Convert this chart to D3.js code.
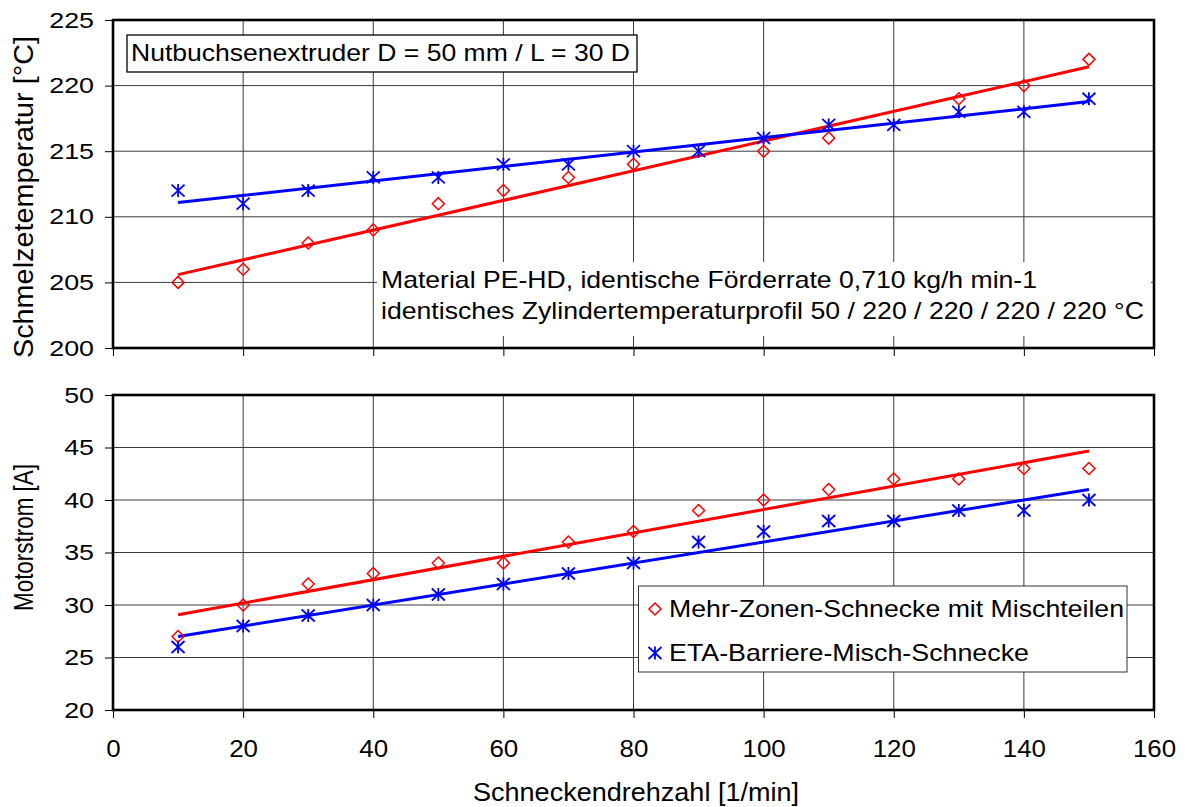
<!DOCTYPE html>
<html>
<head>
<meta charset="utf-8">
<script src="https://cdn.jsdelivr.net/npm/d3@7"></script>
<style>
  html, body { margin: 0; padding: 0; background: #fff; }
  svg { display: block; font-family: "Liberation Sans", Arial, sans-serif; }
</style>
</head>
<body>
<svg id="chart" width="1189" height="807"></svg>
<script>
// ---------------- data ----------------
const speed = [10, 20, 30, 40, 50, 60, 70, 80, 90, 100, 110, 120, 130, 140, 150];
const tempMehrZonen = [205, 206, 208, 209, 211, 212, 213, 214, null, 215, 216, null, 219, 220, 222];
const tempEta       = [212, 211, 212, 213, 213, 214, 214, 215, 215, 216, 217, 217, 218, 218, 219];
const currMehrZonen = [27, 30, 32, 33, 34, 34, 36, 37, 39, 40, 41, 42, 42, 43, 43];
const currEta       = [26, 28, 29, 30, 31, 32, 33, 34, 36, 37, 38, 38, 39, 39, 40];

const xTicks = [0, 20, 40, 60, 80, 100, 120, 140, 160];
const tempTicks = [200, 205, 210, 215, 220, 225];
const currTicks = [20, 25, 30, 35, 40, 45, 50];

const seriesNames = ["Mehr-Zonen-Schnecke mit Mischteilen", "ETA-Barriere-Misch-Schnecke"];
const xTitle = "Schneckendrehzahl [1/min]";
const tempTitle = "Schmelzetemperatur [°C]";
const currTitle = "Motorstrom [A]";
const boxText = "Nutbuchsenextruder D = 50 mm / L = 30 D";
const noteLines = ["Material PE-HD, identische Förderrate 0,710 kg/h min-1",
                   "identisches Zylindertemperaturprofil 50 / 220 / 220 / 220 / 220 °C"];

// ---------------- setup ----------------
const svg = d3.select("#chart");
const RED = "#ff0000", BLUE = "#0000ff";

const x = d3.scaleLinear().domain([0, 160]).range([113, 1154]);
const yT = d3.scaleLinear().domain([200, 225]).range([348, 20]);
const yC = d3.scaleLinear().domain([20, 50]).range([710, 395]);

function fit(xs, ys) {
  const pts = xs.map((v, i) => [v, ys[i]]).filter(p => p[1] != null);
  const mx = d3.mean(pts, p => p[0]), my = d3.mean(pts, p => p[1]);
  const sxy = d3.sum(pts, p => (p[0] - mx) * (p[1] - my));
  const sxx = d3.sum(pts, p => (p[0] - mx) * (p[0] - mx));
  const b = sxy / sxx, a = my - b * mx;
  const x0 = d3.min(xs), x1 = d3.max(xs);
  return [[x0, a + b * x0], [x1, a + b * x1]];
}

const diamondPath = "M0,-6L6,0L0,6L-6,0Z";
const starPath = "M0,-6.5V6.5M-6.5,-6L6.5,6M-6.5,6L6.5,-6";

function textL(g, str, xx, yy, size, len) {
  return g.append("text").attr("x", xx).attr("y", yy)
    .attr("font-size", size).attr("fill", "#000")
    .attr("textLength", len).attr("lengthAdjust", "spacingAndGlyphs")
    .text(str);
}

function drawPanel(y, yTicks, s1, s2, showXLabels) {
  const g = svg.append("g");
  const [bot, top] = y.range();
  const [left, right] = x.range();

  // gridlines
  g.append("g").selectAll("line").data(xTicks.slice(1, -1)).join("line")
    .attr("x1", d => x(d)).attr("x2", d => x(d)).attr("y1", top).attr("y2", bot)
    .attr("stroke", "#3a3a3a").attr("stroke-width", 1);
  g.append("g").selectAll("line").data(yTicks.slice(1, -1)).join("line")
    .attr("x1", left).attr("x2", right).attr("y1", d => y(d)).attr("y2", d => y(d))
    .attr("stroke", "#3a3a3a").attr("stroke-width", 1);

  const overlay = svg.append("g");

  // trend lines
  const line = d3.line().x(d => x(d[0])).y(d => y(d[1]));
  const data = svg.append("g");
  data.append("path").attr("d", line(fit(speed, s1))).attr("stroke", RED)
    .attr("stroke-width", 3).attr("fill", "none");
  data.append("path").attr("d", line(fit(speed, s2))).attr("stroke", BLUE)
    .attr("stroke-width", 3).attr("fill", "none");

  // markers
  data.append("g").selectAll("path")
    .data(speed.map((v, i) => [v, s1[i]]).filter(d => d[1] != null)).join("path")
    .attr("d", diamondPath).attr("transform", d => `translate(${x(d[0])},${y(d[1])})`)
    .attr("fill", "none").attr("stroke", RED).attr("stroke-width", 1.5);
  data.append("g").selectAll("path")
    .data(speed.map((v, i) => [v, s2[i]]).filter(d => d[1] != null)).join("path")
    .attr("d", starPath).attr("transform", d => `translate(${x(d[0])},${y(d[1])})`)
    .attr("fill", "none").attr("stroke", BLUE).attr("stroke-width", 1.8);

  // frame
  svg.append("rect").attr("x", left).attr("y", top).attr("width", right - left).attr("height", bot - top)
    .attr("fill", "none").attr("stroke", "#000").attr("stroke-width", 2.6);

  // axes
  const sy = 1.22;
  const ay = svg.append("g").attr("transform", `translate(${left},0)`)
    .call(d3.axisLeft(y).tickValues(yTicks).tickSize(8).tickSizeOuter(0));
  ay.select(".domain").remove();
  ay.selectAll(".tick line").attr("stroke", "#000");
  ay.selectAll(".tick text").attr("font-size", 22).attr("font-family", null).attr("fill", "#000")
    .attr("x", -19 / sy).attr("transform", `scale(${sy},1)`);

  const sx = 1.08;
  const ax = svg.append("g").attr("transform", `translate(0,${bot})`)
    .call(d3.axisBottom(x).tickValues(xTicks).tickSize(8).tickSizeOuter(0)
      .tickFormat(showXLabels ? d3.format("d") : () => ""));
  ax.select(".domain").remove();
  ax.selectAll(".tick line").attr("stroke", "#000");
  ax.selectAll(".tick text").attr("font-size", 24).attr("font-family", null).attr("fill", "#000")
    .attr("y", 47).attr("dy", 0).attr("transform", `scale(${sx},1)`);

  return overlay;
}

// ---------------- top panel ----------------
const ovT = drawPanel(yT, tempTicks, tempMehrZonen, tempEta, false);
ovT.append("rect").attr("x", 127).attr("y", 35).attr("width", 510).attr("height", 37)
  .attr("fill", "#fff").attr("stroke", "#000").attr("stroke-width", 1.3);
textL(ovT, boxText, 131, 61, 24, 499);
ovT.append("rect").attr("x", 377).attr("y", 262).attr("width", 774).attr("height", 74).attr("fill", "#fff");
textL(ovT, noteLines[0], 381, 288, 24, 656);
textL(ovT, noteLines[1], 381, 319, 24, 763);

// ---------------- bottom panel ----------------
drawPanel(yC, currTicks, currMehrZonen, currEta, true);

// legend
const lg = svg.append("g");
lg.append("rect").attr("x", 638.5).attr("y", 586).attr("width", 488.5).attr("height", 86)
  .attr("fill", "#fff").attr("stroke", "#333").attr("stroke-width", 1);
lg.append("path").attr("d", diamondPath).attr("transform", "translate(655,609)")
  .attr("fill", "none").attr("stroke", RED).attr("stroke-width", 1.5);
lg.append("path").attr("d", starPath).attr("transform", "translate(655,653)")
  .attr("fill", "none").attr("stroke", BLUE).attr("stroke-width", 1.8);
textL(lg, seriesNames[0], 669, 617, 24, 455);
textL(lg, seriesNames[1], 669, 661, 24, 360);

// titles
textL(svg, xTitle, 473, 801, 26, 326);
svg.append("g").attr("transform", "translate(33,197) rotate(-90)")
  .call(g => textL(g, tempTitle, -161, 0, 27, 322));
svg.append("g").attr("transform", "translate(33,537.5) rotate(-90)")
  .call(g => textL(g, currTitle, -73.5, 0, 27, 147));
</script>
</body>
</html>
